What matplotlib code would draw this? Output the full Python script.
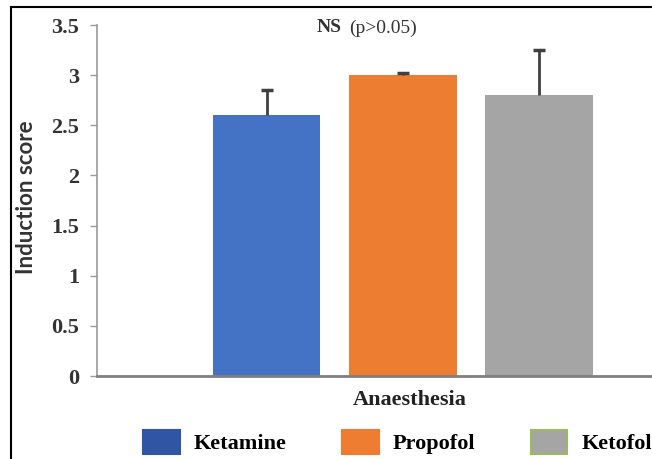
import numpy as np
import matplotlib
matplotlib.use('Agg')
import matplotlib.pyplot as plt
from matplotlib.patches import Patch
from matplotlib.lines import Line2D

groups = ['Ketamine', 'Propofol', 'Ketofol']
scores = [2.6, 3.0, 2.8]
errors = [0.25, 0.02, 0.45]
bar_colors = ['#4472C4', '#ED7D31', '#A5A5A5']
legend_colors = ['#2F55A3', '#EE7D31', '#A5A5A5']
legend_edges = ['#2F55A3', '#EE7D31', '#9BBB59']
yticks = [0, 0.5, 1, 1.5, 2, 2.5, 3, 3.5]
ytick_labels = ['0', '0.5', '1', '1.5', '2', '2.5', '3', '3.5']

W, H = 652, 459
fig = plt.figure(figsize=(W / 100, H / 100), dpi=100)
ax = fig.add_axes([97 / W, 1 - 376 / H, 1 - 97 / W, (376 - 25) / H])

x = np.arange(len(groups))
ax.bar(x, scores, width=0.79, color=bar_colors, zorder=2)
# plus-only error bars, as in the original
tops = np.array(scores) + np.array(errors)
ax.vlines(x, scores, tops, color='#404040', lw=2, zorder=3)
ax.plot(x, tops, '_', color='#404040', ms=8, mew=2.5, zorder=3)

ax.set_xlim(-1.244, 2.829)
ax.set_ylim(0, 3.5)
ax.set_yticks(yticks)
ax.set_yticklabels(ytick_labels, fontfamily='Liberation Serif', fontweight='bold',
                   fontsize=16, color='#333333')
ax.set_xticks([])
ax.tick_params(axis='y', direction='out', length=5, width=1, color='#999999', pad=8)
for tag in ['top', 'right']:
    ax.spines[tag].set_visible(False)
ax.spines['left'].set_color('#999999')
ax.spines['left'].set_linewidth(1.2)
ax.spines['bottom'].set_color('#7f7f7f')
ax.spines['bottom'].set_linewidth(2)

fig.text(27 / W, 1 - 197 / H, 'Induction score', rotation=90, ha='center', va='center',
         fontfamily='Lato', fontweight='bold', fontsize=16, color='#333333')
fig.text(410 / W, 1 - 400 / H, 'Anaesthesia', ha='center', va='center',
         fontfamily='Liberation Serif', fontweight='bold', fontsize=16, color='#222222')
fig.text(317 / W, 1 - 28 / H, 'NS', ha='left', va='center',
         fontfamily='Liberation Serif', fontweight='bold', fontsize=14, color='#333333')
fig.text(349 / W, 1 - 28 / H, '(p>0.05)', ha='left', va='center',
         fontfamily='Liberation Serif', fontsize=14, color='#333333')

handles = [Patch(facecolor=fc, edgecolor=ec, linewidth=1.5)
           for fc, ec in zip(legend_colors, legend_edges)]
fig.legend(handles, groups, loc='center left', bbox_to_anchor=(143 / W, 1 - 442 / H),
           ncol=3, frameon=False, borderpad=0, borderaxespad=0,
           handlelength=1.65, handleheight=1.3, handletextpad=0.63, columnspacing=2.5,
           prop={'family': 'Liberation Serif', 'weight': 'bold', 'size': 16})

# outer frame (cropped on the right and bottom)
fig.add_artist(Line2D([11 / W, 11 / W], [0, 1 - 7 / H], color='black', lw=1.5))
fig.add_artist(Line2D([11 / W, 1], [1 - 7 / H, 1 - 7 / H], color='black', lw=1.5))

fig.savefig('out.png', dpi=100)
